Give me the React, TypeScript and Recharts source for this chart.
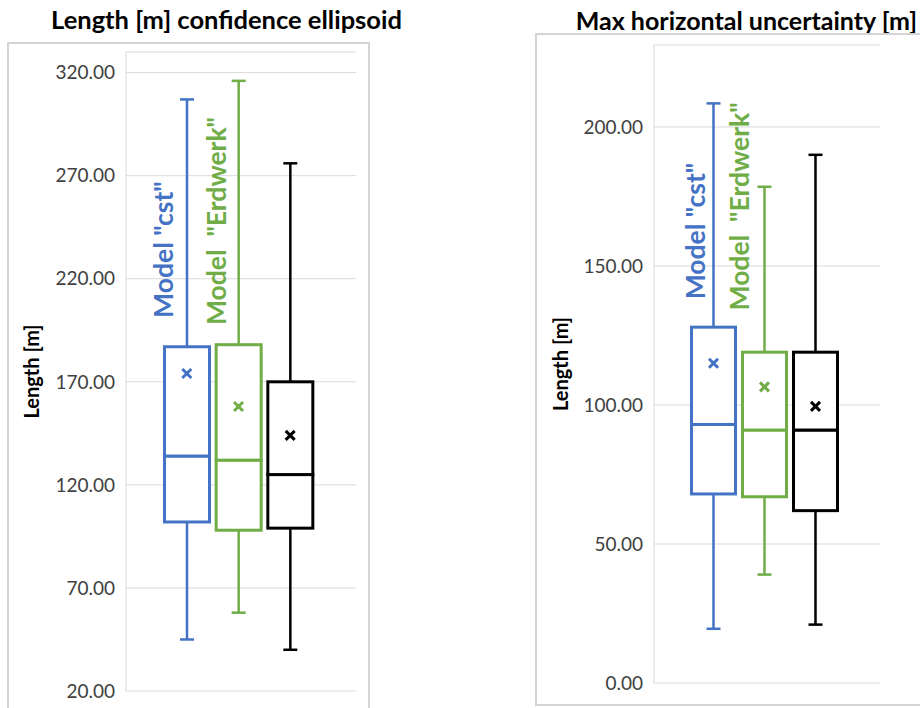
import React from "react";
import {
  ComposedChart,
  Bar,
  Scatter,
  XAxis,
  YAxis,
  CartesianGrid,
  ReferenceDot,
} from "recharts";

const FONT = "Lato, 'Open Sans', sans-serif";
const BLUE = "#4472C4";
const GREEN = "#70AD47";
const BLACK = "#000000";
const GRID = "#d9d9d9";

const models = ["cst", "Erdwerk", "all"];
const modelColors = [BLUE, GREEN, BLACK];

// Length of the confidence ellipsoid [m]
const ellMin = [45, 58, 40];
const ellQ1 = [102, 98, 99];
const ellMedian = [134, 132, 125];
const ellQ3 = [187, 188, 170];
const ellMax = [307, 316, 276];
const ellMean = [174, 158, 144];
const ellTicks = [20, 70, 120, 170, 220, 270, 320];

// Max horizontal uncertainty [m]
const horMin = [19.5, 39, 21];
const horQ1 = [68, 67, 62];
const horMedian = [93, 91, 91];
const horQ3 = [128, 119, 119];
const horMax = [208.5, 178.5, 190];
const horMean = [115, 106.5, 99.5];
const horTicks = [0, 50, 100, 150, 200];

type Row = {
  name: string;
  color: string;
  base: number;
  lowWhisker: number;
  lowBox: number;
  highBox: number;
  highWhisker: number;
  mean: number;
};

function buildRows(
  min: number[],
  q1: number[],
  median: number[],
  q3: number[],
  max: number[],
  mean: number[]
): Row[] {
  return models.map((name, i) => ({
    name,
    color: modelColors[i],
    base: min[i],
    lowWhisker: q1[i] - min[i],
    lowBox: median[i] - q1[i],
    highBox: q3[i] - median[i],
    highWhisker: max[i] - q3[i],
    mean: mean[i],
  }));
}

const ellRows = buildRows(ellMin, ellQ1, ellMedian, ellQ3, ellMax, ellMean);
const horRows = buildRows(horMin, horQ1, horMedian, horQ3, horMax, horMean);

type Note = { name: string; text: string; color: string; at: number; dx: number };

const ellNotes: Note[] = [
  { name: "cst", text: 'Model "cst"', color: BLUE, at: 201, dx: -14 },
  { name: "Erdwerk", text: 'Model  "Erdwerk"', color: GREEN, at: 197.5, dx: -12.5 },
];
const horNotes: Note[] = [
  { name: "cst", text: 'Model "cst"', color: BLUE, at: 138, dx: -8.5 },
  { name: "Erdwerk", text: 'Model  "Erdwerk"', color: GREEN, at: 134, dx: -15 },
];

const CAP = 14;

const whisker = (side: "top" | "bottom") => (props: any) => {
  const { x, y, width, height, payload } = props;
  const cx = x + width / 2;
  const capY = side === "top" ? y : y + height;
  return (
    <g stroke={payload.color} strokeWidth={2.5}>
      <line x1={cx} x2={cx} y1={y} y2={y + height} />
      <line x1={cx - CAP / 2} x2={cx + CAP / 2} y1={capY} y2={capY} />
    </g>
  );
};

const boxHalf = (props: any) => {
  const { x, y, width, height, payload } = props;
  return (
    <rect
      x={x + 1.5}
      y={y}
      width={width - 3}
      height={height}
      fill="#fff"
      stroke={payload.color}
      strokeWidth={3}
    />
  );
};

const meanMark = (props: any) => {
  const { cx, cy, payload } = props;
  const s = 4.5;
  return (
    <g stroke={payload.color} strokeWidth={3}>
      <line x1={cx - s} y1={cy - s} x2={cx + s} y2={cy + s} />
      <line x1={cx - s} y1={cy + s} x2={cx + s} y2={cy - s} />
    </g>
  );
};

const noteLabel = (note: Note) => (props: any) => {
  const x = props.viewBox.x + note.dx;
  const y = props.viewBox.y;
  return (
    <text
      x={x}
      y={y}
      transform={`rotate(-90 ${x} ${y})`}
      fill={note.color}
      fontSize={26.5}
      fontWeight={700}
      fontFamily={FONT}
      style={{ whiteSpace: "pre" }}
    >
      {note.text}
    </text>
  );
};

interface BoxPanelProps {
  rows: Row[];
  ticks: number[];
  domain: [number, number];
  notes: Note[];
  width: number;
  height: number;
  margin: { top: number; right: number; bottom: number; left: number };
  axisWidth: number;
  padding: { left: number; right: number };
  labelOffset: number;
}

function BoxPanel({
  rows,
  ticks,
  domain,
  notes,
  width,
  height,
  margin,
  axisWidth,
  padding,
  labelOffset,
}: BoxPanelProps) {
  return (
    <ComposedChart width={width} height={height} data={rows} margin={margin} barCategoryGap={2}>
      <CartesianGrid vertical={false} stroke={GRID} />
      <XAxis dataKey="name" hide padding={padding} />
      <YAxis
        domain={domain}
        ticks={ticks}
        interval={0}
        allowDataOverflow
        width={axisWidth}
        tickSize={0}
        tickMargin={11}
        tickLine={false}
        axisLine={{ stroke: GRID }}
        tick={{ fill: "#404040", fontSize: 19, fontFamily: FONT }}
        tickFormatter={(v: number) => v.toFixed(2)}
        label={{
          value: "Length [m]",
          angle: -90,
          position: "insideLeft",
          offset: labelOffset,
          style: { textAnchor: "middle", fontWeight: 700, fontSize: 20, fill: "#000", fontFamily: FONT },
        }}
      />
      <Bar stackId="box" dataKey="base" shape={() => <g />} isAnimationActive={false} />
      <Bar stackId="box" dataKey="lowWhisker" shape={whisker("bottom")} isAnimationActive={false} />
      <Bar stackId="box" dataKey="lowBox" shape={boxHalf} isAnimationActive={false} />
      <Bar stackId="box" dataKey="highBox" shape={boxHalf} isAnimationActive={false} />
      <Bar stackId="box" dataKey="highWhisker" shape={whisker("top")} isAnimationActive={false} />
      <Scatter dataKey="mean" shape={meanMark} isAnimationActive={false} />
      {notes.map((n) => (
        <ReferenceDot
          key={n.name}
          x={n.name}
          y={n.at}
          r={0}
          fill="none"
          stroke="none"
          ifOverflow="visible"
          label={noteLabel(n)}
        />
      ))}
    </ComposedChart>
  );
}

const titleStyle = { fontFamily: FONT, fontWeight: 700, fontSize: 25.5, fill: "#000" };

export default function App() {
  return (
    <div style={{ position: "absolute", left: 0, top: 0, width: 920, height: 708, overflow: "hidden", background: "#fff" }}>
      <svg width={920} height={40} style={{ position: "absolute", left: 0, top: 0 }}>
        <text x={226.5} y={29} textAnchor="middle" style={titleStyle}>
          Length [m] confidence ellipsoid
        </text>
        <text x={917} y={30} textAnchor="end" style={{ ...titleStyle, fontSize: 25 }}>
          Max horizontal uncertainty [m]
        </text>
      </svg>

      <div style={{ position: "absolute", left: 7, top: 42, width: 359, height: 700, border: "2px solid #d4d4d4" }} />
      <div style={{ position: "absolute", left: 535, top: 33, width: 420, height: 669, border: "2px solid #d4d4d4" }} />

      <div style={{ position: "absolute", left: 0, top: 0 }}>
        <BoxPanel
          rows={ellRows}
          ticks={ellTicks}
          domain={[20, 330]}
          notes={ellNotes}
          width={370}
          height={708}
          margin={{ top: 52, right: 14, bottom: 17, left: 0 }}
          axisWidth={126}
          padding={{ left: 35, right: 40 }}
          labelOffset={32}
        />
      </div>
      <div style={{ position: "absolute", left: 520, top: 0 }}>
        <BoxPanel
          rows={horRows}
          ticks={horTicks}
          domain={[0, 229.5]}
          notes={horNotes}
          width={400}
          height={708}
          margin={{ top: 45, right: 40, bottom: 25, left: 0 }}
          axisWidth={134}
          padding={{ left: 34, right: 39 }}
          labelOffset={41}
        />
      </div>
    </div>
  );
}
